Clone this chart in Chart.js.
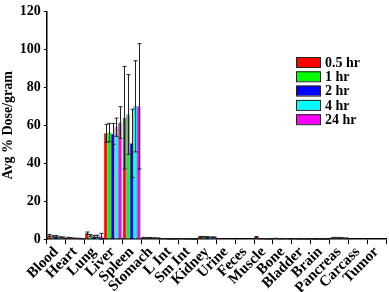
<!DOCTYPE html>
<html>
<head>
<script src="https://cdn.jsdelivr.net/npm/chart.js@4"></script>
<style>
body { margin: 0; background: #fff; }
</style>
</head>
<body>
<canvas id="myChart" width="389" height="292"></canvas>
<script>
// organs
var organs = ["Blood", "Heart", "Lung", "Liver", "Spleen", "Stomach", "L Int", "Sm Int", "Kidney",
    "Urine", "Feces", "Muscle", "Bone", "Bladder", "Brain", "Pancreas", "Carcass", "Tumor"];
var timeLabels = ["0.5 hr", "1 hr", "2 hr", "4 hr", "24 hr"];
var barColors = ["#ff0000", "#00ff00", "#0000ff", "#00ffff", "#ff00ff"];

// avg % dose / gram
var y05 = [2.0, 0.8, 3.2, 55.8, 64.0, 0.8, 0.3, 0.3, 1.2, 0, 0, 1.2, 0.4, 0.3, 0.2, 0.6, 0, 0];
var y1 = [1.5, 0.6, 2.0, 56.2, 65.7, 0.7, 0.3, 0.2, 1.3, 0, 0, 0.3, 0.3, 0.2, 0.1, 0.8, 0, 0];
var y2 = [1.5, 0.5, 1.5, 55.5, 50.5, 0.7, 0.2, 0.2, 1.2, 0, 0, 0.3, 0.3, 0.2, 0.1, 0.7, 0, 0];
var y4 = [1.0, 0.4, 1.5, 59.0, 70.0, 0.6, 0.2, 0.2, 1.0, 0, 0, 0.2, 0.3, 0.2, 0.1, 0.6, 0, 0];
var y24 = [0.9, 0.3, 1.6, 61.5, 70.0, 0.5, 0.2, 0.1, 1.0, 0, 0, 0.2, 0.2, 0.2, 0.1, 0.5, 0, 0];

// standard deviations
var e05 = [0.5, 0.2, 0.6, 4.7, 27, 0.2, 0.1, 0.1, 0.2, 0, 0, 0.2, 0.1, 0.1, 0.1, 0.2, 0, 0];
var e1 = [0.4, 0.2, 0.5, 4.8, 21, 0.2, 0.1, 0.1, 0.2, 0, 0, 0.1, 0.1, 0.1, 0.1, 0.2, 0, 0];
var e2 = [0.4, 0.1, 0.5, 5.5, 18, 0.2, 0.1, 0.1, 0.2, 0, 0, 0.1, 0.1, 0.1, 0.1, 0.2, 0, 0];
var e4 = [0.3, 0.1, 0.6, 4.8, 24, 0.2, 0.1, 0.1, 0.2, 0, 0, 0.1, 0.1, 0.1, 0.1, 0.2, 0, 0];
var e24 = [0.3, 0.1, 1.5, 8.3, 33, 0.2, 0.1, 0.1, 0.2, 0, 0, 0.1, 0.1, 0.1, 0.1, 0.2, 0, 0];

var yTicks = [0, 20, 40, 60, 80, 100, 120];

var series = [y05, y1, y2, y4, y24];
var errors = [e05, e1, e2, e4, e24];

var datasets = series.map(function (vals, i) {
    return {
        label: timeLabels[i],
        data: vals,
        errors: errors[i],
        backgroundColor: barColors[i],
        borderColor: "#333",
        borderWidth: 0.5,
        categoryPercentage: 0.95,
        barPercentage: 1.0
    };
});

var serif = "'Liberation Serif', 'Times New Roman', serif";

// error bars, drawn from the scales
var errorBars = {
    id: "errorBars",
    afterDatasetsDraw: function (chart) {
        var ctx = chart.ctx;
        var yScale = chart.scales.y;
        ctx.save();
        ctx.strokeStyle = "#222";
        ctx.lineWidth = 1;
        chart.data.datasets.forEach(function (ds, i) {
            var meta = chart.getDatasetMeta(i);
            meta.data.forEach(function (bar, j) {
                var err = ds.errors[j];
                if (!err) return;
                var v = ds.data[j];
                var x = Math.round(bar.x) + 0.5;
                var top = yScale.getPixelForValue(v + err);
                var bot = yScale.getPixelForValue(Math.max(0, v - err));
                ctx.beginPath();
                ctx.moveTo(x, top);
                ctx.lineTo(x, bot);
                ctx.moveTo(x - 2, top);
                ctx.lineTo(x + 2, top);
                ctx.moveTo(x - 2, bot);
                ctx.lineTo(x + 2, bot);
                ctx.stroke();
            });
        });
        ctx.restore();
    }
};

// legend inside plot area, top right
var insideLegend = {
    id: "insideLegend",
    afterDraw: function (chart) {
        var ctx = chart.ctx;
        var area = chart.chartArea;
        var x0 = area.right - 90;
        var y0 = 62;
        ctx.save();
        ctx.font = "bold 14px " + serif;
        ctx.textBaseline = "middle";
        chart.data.datasets.forEach(function (ds, i) {
            var y = y0 + i * 14.3;
            ctx.fillStyle = ds.backgroundColor;
            ctx.fillRect(x0, y - 5, 24, 10);
            ctx.strokeStyle = "#222";
            ctx.lineWidth = 1;
            ctx.strokeRect(x0 + 0.5, y - 4.5, 24, 10);
            ctx.fillStyle = "#000";
            ctx.fillText(ds.label, x0 + 29, y + 1);
        });
        ctx.restore();
    }
};

new Chart("myChart", {
    type: "bar",
    data: {
        labels: organs,
        datasets: datasets
    },
    options: {
        responsive: false,
        animation: false,
        layout: { padding: { top: -8, right: 3, left: 0, bottom: -4 } },
        plugins: {
            legend: { display: false },
            tooltip: { enabled: false }
        },
        scales: {
            x: {
                border: { color: "#000", width: 1.5 },
                grid: { display: true, drawOnChartArea: false, offset: true, color: "#000", tickLength: 5 },
                ticks: {
                    color: "#000",
                    font: { family: serif, weight: "bold", size: 15 },
                    autoSkip: false,
                    maxRotation: 45,
                    minRotation: 45,
                    padding: -1
                }
            },
            y: {
                min: 0,
                max: 120,
                afterBuildTicks: function (axis) {
                    axis.ticks = yTicks.map(function (v) { return { value: v }; });
                },
                border: { color: "#000", width: 1.5 },
                grid: { display: true, drawOnChartArea: false, color: "#000", tickLength: 3 },
                ticks: {
                    color: "#000",
                    font: { family: serif, weight: "bold", size: 14 },
                    padding: 3
                },
                title: {
                    display: true,
                    text: "Avg % Dose/gram",
                    color: "#000",
                    font: { family: serif, weight: "bold", size: 14 },
                    padding: 0
                }
            }
        }
    },
    plugins: [errorBars, insideLegend]
});
</script>
</body>
</html>
